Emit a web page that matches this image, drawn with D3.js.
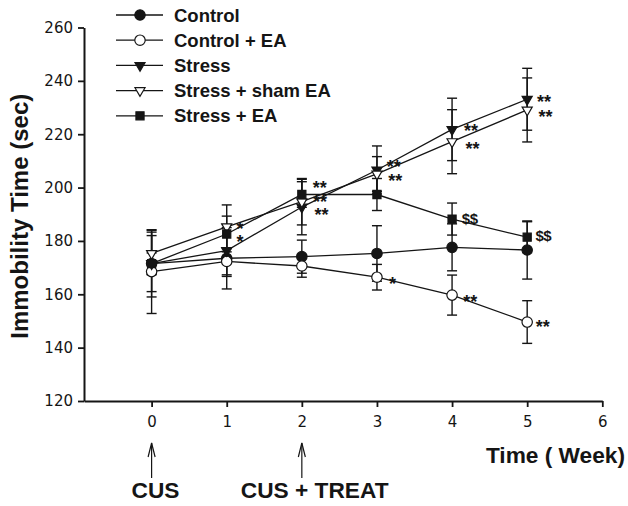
<!DOCTYPE html>
<html>
<head>
<meta charset="utf-8">
<script src="https://cdn.jsdelivr.net/npm/d3@7"></script>
<style>
  body { margin: 0; background: #fff; }
  svg { display: block; }
</style>
</head>
<body>
<div id="container"></div>
<script>
const width = 628;
const height = 506;

// data (immobility time, sec)
const weeks = [0, 1, 2, 3, 4, 5];
const seriesNames = ["Control", "Control + EA", "Stress", "Stress + sham EA", "Stress + EA"];
const controlMean = [171.5, 173.5, 174.1, 175.3, 177.6, 176.6];
const controlErr = [12.5, 11.5, 6.2, 10.4, 8.8, 10.9];
const controlEaMean = [168.5, 172.3, 170.6, 166.4, 159.7, 149.6];
const controlEaErr = [15.7, 5, 4.2, 4.8, 7.5, 8];
const stressMean = [171.5, 176.4, 192.7, 206.6, 221.8, 233.1];
const stressErr = [10.5, 9.7, 10.4, 9, 11.7, 11.6];
const shamMean = [175.3, 185.3, 194.7, 205.1, 217.2, 229.1];
const shamErr = [8, 8.2, 8.7, 6.5, 12, 12];
const stressEaMean = [171.5, 182.6, 197.4, 197.4, 188.2, 181.4];
const stressEaErr = [4, 6.7, 4.8, 6, 6, 5.8];
const yTicks = [120, 140, 160, 180, 200, 220, 240, 260];
const xTicks = [0, 1, 2, 3, 4, 5, 6];

// significance marks: [week, value, label]
const marks = [
  [1.13, 186.0, "*"], [1.13, 181.1, "*"],
  [2.145, 201.3, "**"], [2.15, 196.2, "**"], [2.17, 191.2, "**"],
  [3.13, 209.2, "**"], [3.15, 204.1, "**"],
  [4.16, 222.8, "**"], [4.18, 216.0, "**"],
  [5.13, 233.5, "**"], [5.15, 228.1, "**"],
  [3.16, 165.4, "*"], [4.15, 158.5, "**"], [5.115, 149.1, "**"]
];
const dollarMarks = [[4.13, 188.5, "$$"], [5.11, 182.2, "$$"]];

// treatment arrows: [week, label, text offset]
const arrows = [[0, "CUS", -20], [2, "CUS + TREAT", -61]];

const series = [
  { name: seriesNames[0], mean: controlMean, err: controlErr, shape: "circle", filled: true },
  { name: seriesNames[1], mean: controlEaMean, err: controlEaErr, shape: "circle", filled: false },
  { name: seriesNames[2], mean: stressMean, err: stressErr, shape: "tri", filled: true },
  { name: seriesNames[3], mean: shamMean, err: shamErr, shape: "tri", filled: false },
  { name: seriesNames[4], mean: stressEaMean, err: stressEaErr, shape: "square", filled: true }
];

const svg = d3.select("#container")
  .append("svg")
  .attr("width", width)
  .attr("height", height);

const x = d3.scaleLinear().domain([-0.9, 6]).range([84, 602.3]);
const y = d3.scaleLinear().domain([120, 260]).range([401, 27.5]);

const ink = "#151515";
const boldFont = "'Liberation Sans', Arial, sans-serif";
const tickFont = "'DejaVu Sans', sans-serif";

// axes
const yAxis = svg.append("g")
  .attr("transform", `translate(${x.range()[0]},0)`)
  .call(d3.axisLeft(y).tickValues(yTicks).tickSize(6).tickSizeOuter(0).tickPadding(5));
const xAxis = svg.append("g")
  .attr("transform", `translate(0,${y.range()[0]})`)
  .call(d3.axisBottom(x).tickValues(xTicks).tickFormat(d3.format("d"))
    .tickSize(6).tickSizeOuter(0).tickPadding(9));

[yAxis, xAxis].forEach(g => {
  g.select(".domain").attr("stroke", ink).attr("stroke-width", 2);
  g.selectAll(".tick line").attr("stroke", ink).attr("stroke-width", 1.8);
  g.selectAll(".tick text")
    .attr("fill", ink)
    .style("font-family", tickFont)
    .style("font-size", "15px");
});

// axis titles
svg.append("text")
  .attr("transform", `translate(28,${(y(260) + y(120)) / 2 + 2}) rotate(-90)`)
  .attr("text-anchor", "middle")
  .style("font-family", boldFont)
  .style("font-weight", "bold")
  .style("font-size", "24px")
  .attr("fill", ink)
  .text("Immobility Time (sec)");

svg.append("text")
  .attr("x", 625)
  .attr("y", 463)
  .attr("text-anchor", "end")
  .style("font-family", boldFont)
  .style("font-weight", "bold")
  .style("font-size", "22.7px")
  .attr("fill", ink)
  .text("Time ( Week)");

// marker drawing
function drawMarker(g, s, cx, cy) {
  let path;
  if (s.shape === "circle") path = d3.symbol(d3.symbolCircle, 85)();
  else if (s.shape === "square") path = d3.symbol(d3.symbolSquare, 66)();
  else path = d3.symbol(d3.symbolTriangle, 44)();
  g.append("path")
    .attr("d", path)
    .attr("transform", `translate(${cx},${cy})` + (s.shape === "tri" ? " rotate(180)" : ""))
    .attr("fill", s.filled ? ink : "#fff")
    .attr("stroke", ink)
    .attr("stroke-width", 1.2);
}

const line = d3.line().x(d => x(d[0])).y(d => y(d[1]));

// error bars
const bars = svg.append("g");
series.forEach(s => {
  weeks.forEach((w, i) => {
    const hi = s.mean[i] + s.err[i], lo = s.mean[i] - s.err[i];
    bars.append("line")
      .attr("x1", x(w)).attr("x2", x(w))
      .attr("y1", y(hi)).attr("y2", y(lo))
      .attr("stroke", ink).attr("stroke-width", 1.4);
    [hi, lo].forEach(v => {
      bars.append("line")
        .attr("x1", x(w) - 5).attr("x2", x(w) + 5)
        .attr("y1", y(v)).attr("y2", y(v))
        .attr("stroke", ink).attr("stroke-width", 1.4);
    });
  });
});

// lines
series.forEach(s => {
  svg.append("path")
    .datum(weeks.map((w, i) => [w, s.mean[i]]))
    .attr("d", line)
    .attr("fill", "none")
    .attr("stroke", ink)
    .attr("stroke-width", 1.3);
});

// markers
const pts = svg.append("g");
series.forEach(s => {
  weeks.forEach((w, i) => drawMarker(pts, s, x(w), y(s.mean[i])));
});

// significance labels
svg.append("g").selectAll("text")
  .data(marks)
  .enter()
  .append("text")
  .attr("x", d => x(d[0]))
  .attr("y", d => y(d[1]) + 10)
  .style("font-family", boldFont)
  .style("font-weight", "bold")
  .style("font-size", "18px")
  .attr("fill", ink)
  .text(d => d[2]);

svg.append("g").selectAll("text")
  .data(dollarMarks)
  .enter()
  .append("text")
  .attr("x", d => x(d[0]))
  .attr("y", d => y(d[1]) + 5.5)
  .style("font-family", boldFont)
  .style("font-weight", "bold")
  .style("font-size", "15px")
  .style("letter-spacing", "-0.5px")
  .attr("fill", ink)
  .text(d => d[2]);

// legend
const legend = svg.append("g");
series.forEach((s, i) => {
  const ly = 15 + i * 25.2;
  legend.append("line")
    .attr("x1", 116).attr("x2", 163)
    .attr("y1", ly).attr("y2", ly)
    .attr("stroke", ink).attr("stroke-width", 1.3);
  drawMarker(legend, s, 140, ly);
  legend.append("text")
    .attr("x", 174)
    .attr("y", ly + 6.5)
    .style("font-family", boldFont)
    .style("font-weight", "bold")
    .style("font-size", "18.5px")
    .attr("fill", ink)
    .text(s.name);
});

// arrows below axis
arrows.forEach(a => {
  const ax = x(a[0]);
  const g = svg.append("g").attr("stroke", ink).attr("stroke-width", 1.2).attr("fill", "none");
  g.append("line").attr("x1", ax).attr("x2", ax).attr("y1", 443).attr("y2", 478);
  g.append("path").attr("d", `M${ax - 3.5},457 L${ax},443 L${ax + 3.5},457`);
  svg.append("text")
    .attr("x", ax + a[2])
    .attr("y", 498)
    .style("font-family", boldFont)
    .style("font-weight", "bold")
    .style("font-size", "22.7px")
    .attr("fill", ink)
    .text(a[1]);
});
</script>
</body>
</html>
